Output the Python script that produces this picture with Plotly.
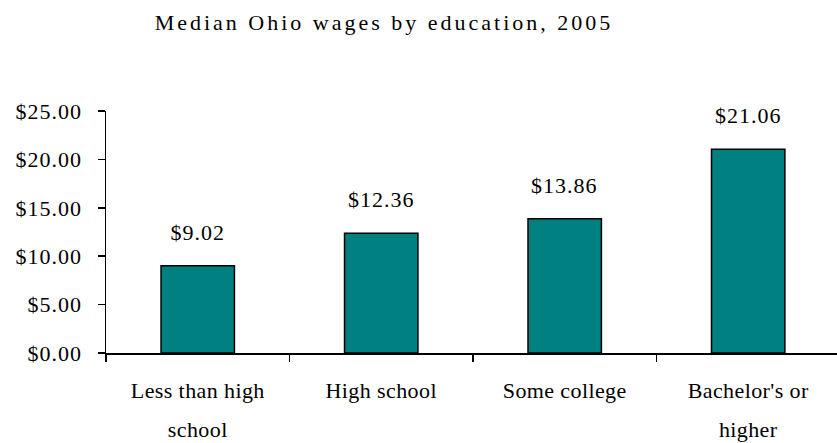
import plotly.graph_objects as go

categories = ["Less than high<br>school", "High school", "Some college", "Bachelor's or<br>higher"]
wages = [9.02, 12.36, 13.86, 21.06]
y_ticks = [0, 5, 10, 15, 20, 25]
y_tick_labels = [f"${t:.2f}" for t in y_ticks]
title_text = "Median Ohio wages by education, 2005"

FONT = "Liberation Serif"

fig = go.Figure(
    go.Bar(
        x=categories,
        y=wages,
        marker=dict(color="#008080", line=dict(color="black", width=1.5)),
        hoverinfo="skip",
    )
)

for c, v in zip(categories, wages):
    fig.add_annotation(
        x=c, y=v, text=f"${v:.2f}", showarrow=False,
        yanchor="bottom", yshift=19,
        font=dict(family=FONT, size=22, color="black"),
    )

fig.update_layout(
    width=837, height=443,
    margin=dict(l=106, r=0, t=111, b=90),
    paper_bgcolor="white", plot_bgcolor="white",
    bargap=0.6,
    showlegend=False,
    font=dict(family=FONT, size=22, color="black"),
    title=dict(
        text=title_text, x=384 / 837, xref="container", xanchor="center",
        y=1 - 22 / 443, yref="container", yanchor="middle",
        font=dict(family=FONT, size=22, color="black"),
    ),
)

fig.update_xaxes(
    range=[-0.5, 3.484],
    showline=True, linecolor="black", linewidth=1.5,
    ticks="outside", tickson="boundaries", ticklen=7, tickwidth=1.5, tickcolor="black",
    showgrid=False, zeroline=False,
    ticklabelstandoff=17,
    tickfont=dict(family=FONT, size=22, color="black"),
)
fig.update_yaxes(
    range=[0, 25], tickvals=y_ticks, ticktext=y_tick_labels,
    showline=True, linecolor="black", linewidth=1.5,
    ticks="outside", ticklen=7, tickwidth=1.5, tickcolor="black",
    showgrid=False, zeroline=False,
    ticklabelstandoff=11,
    tickfont=dict(family=FONT, size=22, color="black"),
)

post = """
document.body.style.margin='0';
document.body.style.padding='0';
var s=document.createElement('style');
s.textContent='body{margin:0;padding:0} .gtitle{letter-spacing:3px} .ytick text, .annotation-text{letter-spacing:1px} .xtick text{letter-spacing:0.4px}';
document.head.appendChild(s);
document.querySelectorAll('.xtick text tspan.line').forEach(function(t){
  var d=t.getAttribute('dy');
  if(d && parseFloat(d)>0){ t.setAttribute('dy','39px'); }
});
"""

fig.write_html("out.html", post_script=post, config={"displayModeBar": False, "staticPlot": True})
